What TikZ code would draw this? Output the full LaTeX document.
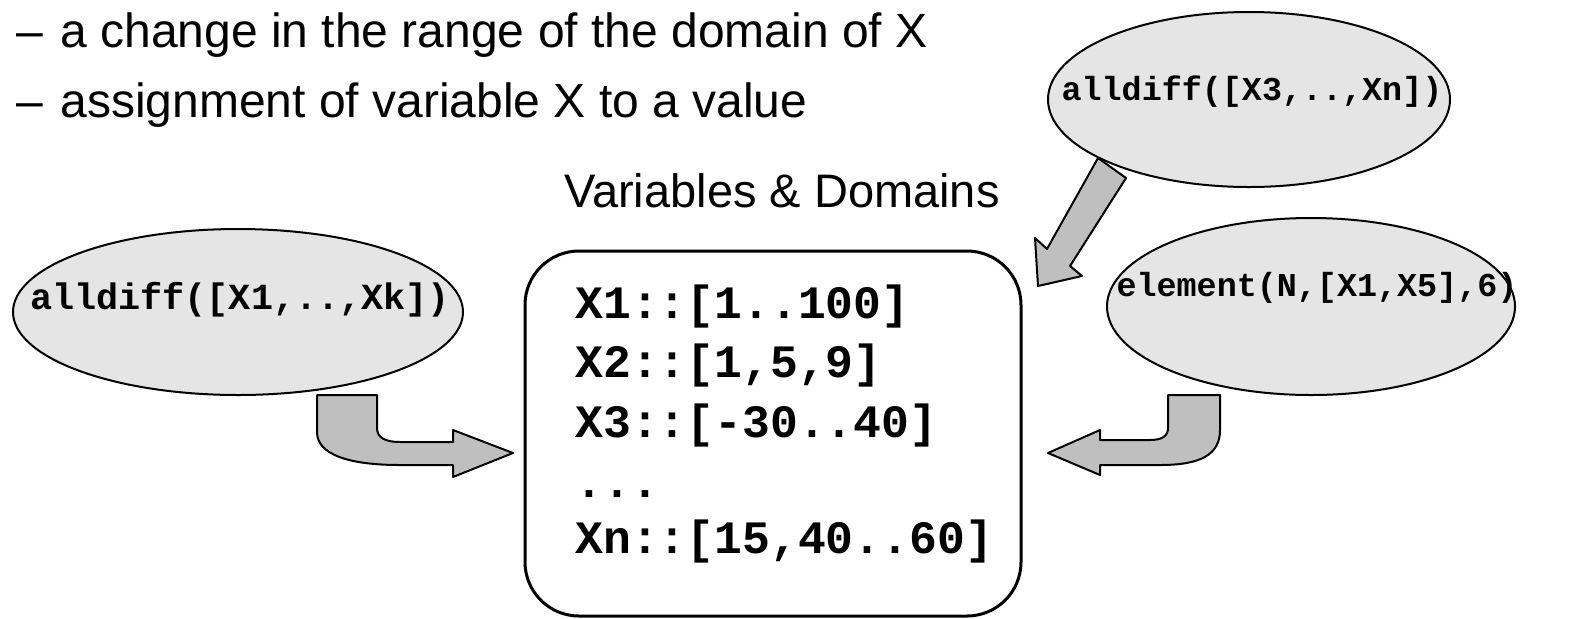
\documentclass[tikz,border=0pt]{standalone}
\usepackage{fontspec}
\setmainfont{Liberation Sans}
\newfontfamily\cour{Liberation Mono}
\usetikzlibrary{shapes.geometric}
\tikzset{
  ell/.style={ellipse, draw=black, line width=1pt, fill=black!10, inner sep=0pt},
  blk/.style={draw=black, line width=1pt, fill=black!25, line join=round},
  txt/.style={inner sep=0pt, font=\fontsize{24}{28}\selectfont},
  ttl/.style={inner sep=0pt, font=\fontsize{23.5}{28}\selectfont},
  dom/.style={inner sep=0pt, anchor=base west, font=\cour\bfseries\fontsize{23.2}{27}\selectfont},
  codeL/.style={inner sep=0pt, font=\cour\bfseries\fontsize{18.4}{20}\selectfont},
  codeS/.style={inner sep=0pt, font=\cour\bfseries\fontsize{16.7}{18}\selectfont},
}
\begin{document}
\begin{tikzpicture}[x=0.5pt,y=-0.5pt]
\useasboundingbox (0,0) rectangle (1585,618);
% bullet lines
\node[txt, anchor=base west] (d1) at (16,47) {–};
\node[txt, anchor=base west] (t1) at (60,47) {a change in the range of the domain of X};
\node[txt, anchor=base west] (d2) at (16,117) {–};
\node[txt, anchor=base west] (t2) at (60,117) {assignment of variable X to a value};
% title
\node[ttl, anchor=base] (title) at (782,207) {Variables \& Domains};
% box
\draw[line width=1.5pt, rounded corners=27pt] (525,251) rectangle (1021,616);
\node[dom] (v1) at (575,318) {X1::[1..100]};
\node[dom] (v2) at (575,377) {X2::[1,5,9]};
\node[dom] (v3) at (575,437) {X3::[-30..40]};
\node[dom] (v4) at (575,497) {...};
\node[dom] (v5) at (575,553) {Xn::[15,40..60]};
% diagonal arrow (behind top ellipse)
\draw[blk] (1098,158) -- (1126,178) -- (1070,266) -- (1082,276) -- (1038,286) -- (1035,238) -- (1047,249) -- cycle;
% ellipses
\node[ell, minimum width=225pt, minimum height=83pt] (e1) at (238,312) {};
\node[codeL] at (240,300) {alldiff([X1,..,Xk])};
\node[ell, minimum width=201pt, minimum height=87.5pt] (e2) at (1249,99.5) {};
\node[codeS] at (1252,92) {alldiff([X3,..,Xn])};
\node[ell, minimum width=204pt, minimum height=88.5pt] (e3) at (1311,306.5) {};
\node[codeS] at (1317,288) {element(N,[X1,X5],6)};
% left curved arrow
\draw[blk] (317,395) -- (377,395) -- (377,428) .. controls (377,438) and (386,442) .. (400,442)
  -- (453,442) -- (453,430) -- (513,453) -- (453,477) -- (453,465) -- (400,465)
  .. controls (350,465) and (317,455) .. (317,432) -- cycle;
% right curved arrow
\draw[blk] (1220,395) -- (1168,395) -- (1168,428) .. controls (1168,436) and (1162,440) .. (1150,440)
  -- (1100,440) -- (1100,430) -- (1048,453) -- (1100,475) -- (1100,465) -- (1160,465)
  .. controls (1200,465) and (1220,455) .. (1220,430) -- cycle;
\end{tikzpicture}
\end{document}
